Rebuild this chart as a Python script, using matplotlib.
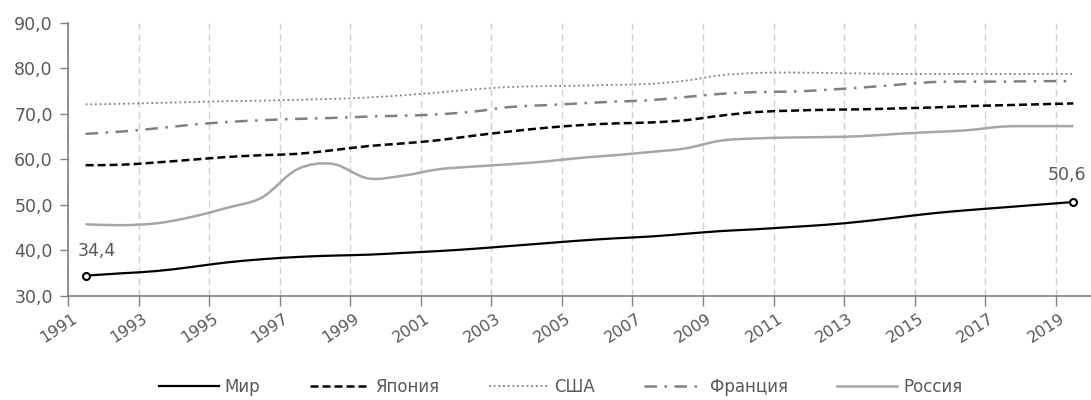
import numpy as np
import matplotlib
matplotlib.use("Agg")
import matplotlib.pyplot as plt
from matplotlib.path import Path
from matplotlib.patches import PathPatch
from matplotlib.lines import Line2D
from matplotlib.ticker import FixedLocator, FuncFormatter
import matplotlib.transforms as mtransforms

years = np.arange(1991, 2020)

world = [34.4, 34.9, 35.4, 36.3, 37.3, 38.0, 38.5, 38.8, 39.0, 39.4,
         39.8, 40.3, 40.9, 41.5, 42.1, 42.6, 43.0, 43.6, 44.2, 44.6,
         45.1, 45.6, 46.3, 47.2, 48.1, 48.8, 49.4, 50.0, 50.6]
japan = [58.7, 58.8, 59.3, 59.9, 60.5, 60.9, 61.2, 62.0, 62.9, 63.5,
         64.2, 65.2, 66.1, 66.9, 67.5, 67.9, 68.1, 68.6, 69.6, 70.4,
         70.7, 70.9, 71.0, 71.2, 71.4, 71.7, 71.9, 72.1, 72.3]
usa = [72.1, 72.2, 72.4, 72.6, 72.8, 72.9, 73.1, 73.3, 73.6, 74.1,
       74.7, 75.4, 75.9, 76.1, 76.2, 76.4, 76.6, 77.3, 78.5, 79.0,
       79.1, 79.0, 78.9, 78.8, 78.8, 78.8, 78.8, 78.8, 78.8]
france = [65.6, 66.1, 66.8, 67.6, 68.2, 68.6, 68.9, 69.1, 69.4, 69.6,
          69.9, 70.5, 71.5, 71.9, 72.3, 72.7, 73.0, 73.7, 74.4, 74.8,
          74.9, 75.3, 75.8, 76.4, 77.0, 77.1, 77.1, 77.2, 77.2]
russia = [45.7, 45.5, 45.9, 47.3, 49.3, 51.6, 57.8, 59.0, 55.8, 56.4,
          57.8, 58.4, 58.9, 59.5, 60.3, 60.9, 61.6, 62.4, 64.1, 64.6,
          64.8, 64.9, 65.1, 65.6, 66.0, 66.4, 67.2, 67.3, 67.3]

labels = ["Мир", "Япония", "США", "Франция", "Россия"]

styles = [
    dict(color="#000000", lw=1.6, ls="-"),
    dict(color="#000000", lw=1.8, ls=(0, (3.2, 1.6))),
    dict(color="#808080", lw=1.3, ls=(0, (1, 1.6))),
    dict(color="#808080", lw=1.8, ls=(0, (5, 3, 1, 3))),
    dict(color="#a6a6a6", lw=1.8, ls="-"),
]

TXT = "#595959"


def smooth_path(x, y):
    # cubic bezier segments through the points (catmull-rom tangents)
    p = np.column_stack([x, y]).astype(float)
    ext = np.vstack([p[0], p, p[-1]])
    verts = [p[0]]
    codes = [Path.MOVETO]
    for i in range(len(p) - 1):
        p0, p1, p2, p3 = ext[i], ext[i + 1], ext[i + 2], ext[i + 3]
        c1 = p1 + (p2 - p0) / 6.0
        c2 = p2 - (p3 - p1) / 6.0
        verts += [c1, c2, p2]
        codes += [Path.CURVE4] * 3
    return Path(verts, codes)


fig = plt.figure(figsize=(10.91, 4.0), dpi=100)
ax = fig.add_axes([0.0623, 0.261, 0.9377, 0.6815])

series = [world, japan, usa, france, russia]
for vals, st in zip(series, styles):
    patch = PathPatch(smooth_path(years, vals), fill=False, edgecolor=st["color"],
                      lw=st["lw"], linestyle=st["ls"], capstyle="butt", zorder=3)
    ax.add_patch(patch)

# first and last points of world
ax.plot([years[0], years[-1]], [world[0], world[-1]], ls="none", marker="o",
        ms=5, mfc="white", mec="black", mew=1.5, zorder=4)
ax.annotate(f"{world[0]:.1f}".replace(".", ","), (years[0], world[0]),
            xytext=(11, 16), textcoords="offset pixels", ha="center", va="bottom",
            fontsize=12.5, color=TXT)
ax.annotate(f"{world[-1]:.1f}".replace(".", ","), (years[-1], world[-1]),
            xytext=(-6, 18), textcoords="offset pixels", ha="center", va="bottom",
            fontsize=12.5, color=TXT)

ax.set_xlim(1990.5, 2019.5)
ax.set_ylim(30, 90)

ax.set_yticks(np.arange(30, 91, 10))
ax.yaxis.set_major_formatter(FuncFormatter(lambda v, p: f"{v:.1f}".replace(".", ",")))
ax.tick_params(axis="y", length=6, width=1, color="#808080", labelsize=12.5,
               labelcolor=TXT, pad=5)

# boundaries between categories carry tick marks and grid, labels sit on years
ax.xaxis.set_major_locator(FixedLocator(np.arange(1990.5, 2019, 2)))
ax.xaxis.set_minor_locator(FixedLocator(years[::2]))
ax.xaxis.set_major_formatter(FuncFormatter(lambda v, p: ""))
ax.xaxis.set_minor_formatter(FuncFormatter(lambda v, p: f"{int(round(v))}"))
ax.tick_params(axis="x", which="major", length=7, width=1, color="#808080")
ax.tick_params(axis="x", which="minor", length=0, labelsize=11.5,
               labelcolor=TXT, pad=11)
shift = mtransforms.ScaledTranslation(-14 / 100, 0, fig.dpi_scale_trans)
for lab in ax.xaxis.get_minorticklabels():
    lab.set_rotation(33)
    lab.set_ha("right")
    lab.set_va("top")
    lab.set_rotation_mode("anchor")
    lab.set_transform(lab.get_transform() + shift)

ax.grid(axis="x", which="major", color="#d0d0d0", ls=(0, (5, 3)), lw=1)
ax.set_axisbelow(True)

for s in ["top", "right"]:
    ax.spines[s].set_visible(False)
for s in ["left", "bottom"]:
    ax.spines[s].set_color("#808080")
    ax.spines[s].set_linewidth(1.2)

handles = [Line2D([], [], color=st["color"], lw=st["lw"], ls=st["ls"]) for st in styles]
leg = fig.legend(handles, labels, loc="center", bbox_to_anchor=(0.514, 0.033),
                 ncol=5, frameon=False, fontsize=12, handlelength=3.6,
                 handletextpad=0.35, columnspacing=2.95)
for t in leg.get_texts():
    t.set_color(TXT)

fig.savefig("out.png", dpi=100)
